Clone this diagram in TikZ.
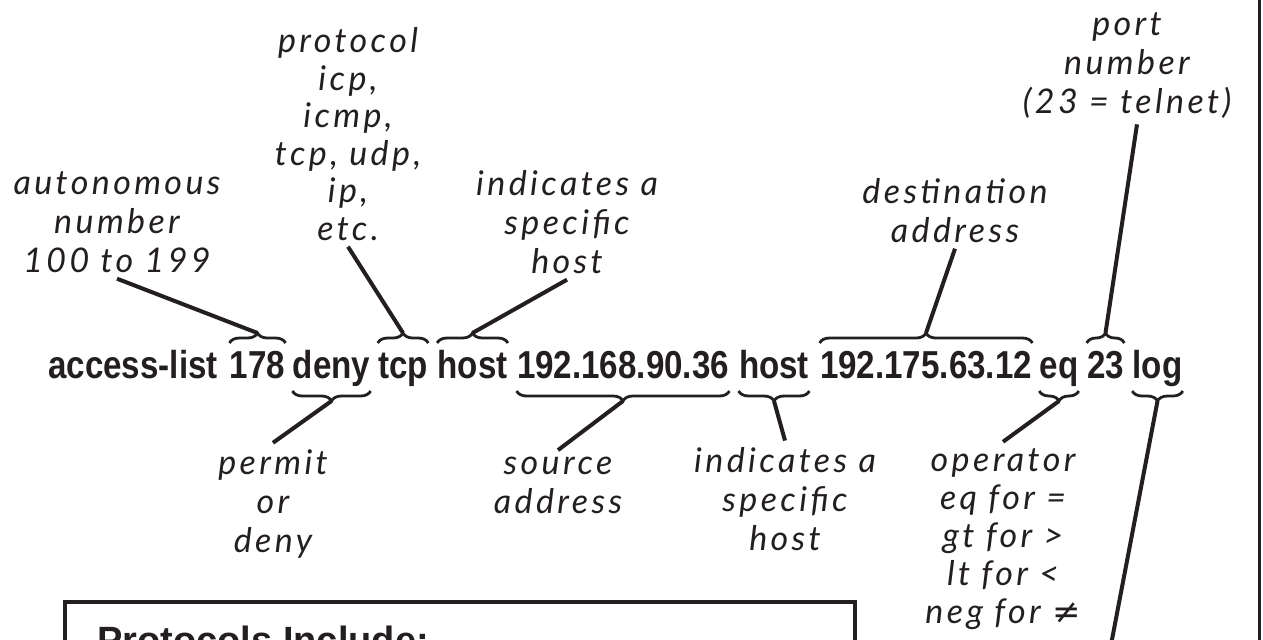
\documentclass[tikz,border=0pt]{standalone}
\usepackage{fontspec}
\usetikzlibrary{positioning,calc,decorations.pathreplacing}
\definecolor{ink}{HTML}{231F20}
\newfontfamily\cmdfont{Liberation Sans}[FakeStretch=0.85]
\newfontfamily\headfont{Liberation Sans}
\newfontfamily\handfont{Lato}[LetterSpace=10]
\newfontfamily\symbfont{DejaVu Sans}
\tikzstyle{link} = [ink, line width=2pt]

\begin{document}
\begin{tikzpicture}[
        x=0.5pt, y=-0.5pt, % one unit = one pixel, y going down
        word/.style={inner sep=0pt, anchor=base, text=ink, font=\cmdfont\bfseries\fontsize{19.5}{23}\selectfont}, % command words
        note/.style={anchor=base, align=center, inner sep=3pt, text=ink, font=\handfont\itshape\fontsize{17}{19.5}\selectfont}, % hand notes, placed by last line
        brace up/.style={ink, line width=1.4pt, decorate, decoration={brace, amplitude=5pt}},
        brace down/.style={ink, line width=1.4pt, decorate, decoration={brace, amplitude=5pt}}
    ]
        \useasboundingbox (0,0) rectangle (1263,639);

        % The command line
        \node (waccess) [word] at (133,378) {access-list};
        \node (w178) [word] at (257.5,378) {178};
        \node (wdeny) [word] at (331.5,378) {deny};
        \node (wtcp) [word] at (403,378) {tcp};
        \node (whostA) [word] at (472.5,378) {host};
        \node (wsrc) [word] at (623,378) {192.168.90.36};
        \node (whostB) [word] at (774,378) {host};
        \node (wdst) [word] at (926,378) {192.175.63.12};
        \node (weq) [word] at (1059,378) {eq};
        \node (w23) [word] at (1105.5,378) {23};
        \node (wlog) [word] at (1157.5,378) {log};

        % Braces above and below the words
        \coordinate (braceup) at (0,343);
        \coordinate (bracedown) at (0,391);
        \foreach \w in {w178,wtcp,whostA,wdst,w23} {
            \draw [brace up] (\w.west |- braceup) -- (\w.east |- braceup);
            \coordinate (\w-tip) at ($(\w.center |- braceup)+(0,-10)$);
        }
        \foreach \w in {wdeny,wsrc,whostB,weq,wlog} {
            \draw [brace down] (\w.east |- bracedown) -- (\w.west |- bracedown);
            \coordinate (\w-tip) at ($(\w.center |- bracedown)+(0,10)$);
        }

        % Notes above
        \node (lblauto) [note] at (117,272) {autonomous\\number\\100 to 199};
        \node (lblproto) [note, font=\handfont\itshape\fontsize{17}{18.75}\selectfont] at (348,240) {protocol\\icp,\\icmp,\\tcp, udp,\\ip,\\etc.};
        \node (lblhostA) [note] at (567,273) {indicates a\\specific\\host};
        \node (lbldst) [note] at (955,242) {destination\\address};
        \node (lblport) [note] at (1127,113) {port\\number\\(23 = telnet)};

        % Notes below
        \node (lblperm) [note] at (273,552) {permit\\or\\deny};
        \node (lblsrc) [note] at (558,513) {source\\address};
        \node (lblhostB) [note] at (785,550) {indicates a\\specific\\host};
        \node (lbloper) [note, font=\handfont\itshape\fontsize{17}{19}\selectfont] at (1003,623) {operator\\eq for =\\gt for >\\lt for <\\neg for {\symbfont ≠}};

        % Protocol box, cut off by the page edge
        \node (protobox) [draw=ink, line width=2pt, anchor=north west, minimum width=395pt, minimum height=60pt] at (63,600) {};
        \node (protohead) [anchor=base west, inner sep=0pt, text=ink, font=\headfont\bfseries\fontsize{19}{23}\selectfont] at (97,653) {Protocols Include:};

        % Connect notes above
        \draw [link] (lblauto.south) -- (w178-tip);
        \draw [link] (lblproto.south) -- (wtcp-tip);
        \draw [link] (lblhostA.south) -- (whostA-tip);
        \draw [link] (lbldst.south) -- (wdst-tip);
        \draw [link] ([xshift=5pt]lblport.south) -- (w23-tip);

        % Connect notes below
        \draw [link] (wdeny-tip) -- (lblperm.north);
        \draw [link] (wsrc-tip) -- (lblsrc.north);
        \draw [link] (whostB-tip) -- (lblhostB.north);
        \draw [link] (weq-tip) -- (lbloper.north);
        \coordinate (logend) at (1110,650);
        \draw [link] (wlog-tip) -- (logend);

        % Right edge
        \draw [ink, line width=1.5pt] (1259,-5) -- (1259,645);
    \end{tikzpicture}
\end{document}
